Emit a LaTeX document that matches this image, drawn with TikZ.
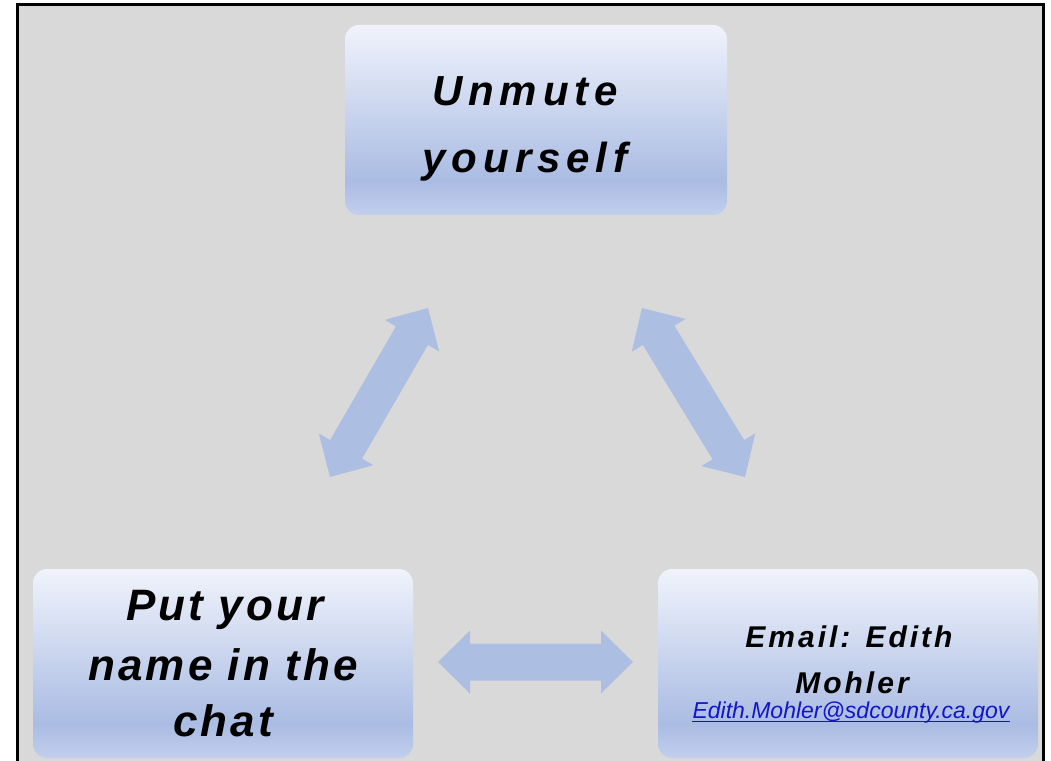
\documentclass[tikz,border=0pt]{standalone}
\usepackage{fontspec}
\setmainfont{Liberation Sans}
\newfontfamily\topfont[LetterSpace=14]{Liberation Sans}
\newfontfamily\blfont[LetterSpace=7]{Liberation Sans}
\newfontfamily\brfont[LetterSpace=10]{Liberation Sans}
\newfontfamily\linkfont{Liberation Sans}
\usetikzlibrary{calc}
\definecolor{bg}{RGB}{217,217,217}
\definecolor{boxtop}{RGB}{240,243,251}
\definecolor{boxdark}{RGB}{170,188,227}
\definecolor{boxbot}{RGB}{194,207,237}
\definecolor{arrowc}{RGB}{173,190,227}
\definecolor{linkc}{RGB}{20,20,200}
\pgfdeclareverticalshading{boxshade}{100bp}{color(0bp)=(boxbot); color(25bp)=(boxbot); color(34bp)=(boxdark); color(75bp)=(boxtop); color(100bp)=(boxtop)}
\newcommand\dblarrow[2]{%
  \fill[arrowc] (#1)
   -- ($(#1)!32pt!(#2)!31.5pt!90:(#2)$)
   -- ($(#1)!32pt!(#2)!18.5pt!90:(#2)$)
   -- ($(#2)!32pt!(#1)!18.5pt!-90:(#1)$)
   -- ($(#2)!32pt!(#1)!31.5pt!-90:(#1)$)
   -- (#2)
   -- ($(#2)!32pt!(#1)!31.5pt!90:(#1)$)
   -- ($(#2)!32pt!(#1)!18.5pt!90:(#1)$)
   -- ($(#1)!32pt!(#2)!18.5pt!-90:(#2)$)
   -- ($(#1)!32pt!(#2)!31.5pt!-90:(#2)$)
   -- cycle;}
\tikzset{
  box/.style={rounded corners=14pt, shading=boxshade, inner sep=0pt,
    minimum width=381pt, minimum height=190pt},
  txt/.style={anchor=base, inner sep=0pt, text=black}
}
\begin{document}
\begin{tikzpicture}[x=1pt,y=-1pt]
\useasboundingbox (0,0) rectangle (1051,760);
\fill[white] (0,0) rectangle (1051,760);
\clip (0,0) rectangle (1051,760);
\draw[line width=3pt, fill=bg] (17,5) rectangle (1043.5,780);

% boxes
\node[box, minimum width=382pt] (top) at (536,120) {};
\node[box, minimum width=380pt, minimum height=189pt] (bl) at (223,663.5) {};
\node[box, minimum width=380pt, minimum height=189pt] (br) at (848,663.5) {};

% texts
\node[txt, font=\topfont\bfseries\itshape\fontsize{42}{50}\selectfont] (t1) at (525,105) {Unmute};
\node[txt, font=\topfont\bfseries\itshape\fontsize{42}{50}\selectfont] (t2) at (525,172) {yourself};

\node[txt, font=\blfont\bfseries\itshape\fontsize{44}{52}\selectfont] (l1) at (225,620) {Put your};
\node[txt, font=\blfont\bfseries\itshape\fontsize{44}{52}\selectfont] (l2) at (223,680) {name in the};
\node[txt, font=\blfont\bfseries\itshape\fontsize{44}{52}\selectfont] (l3) at (223,736) {chat};

\node[txt, font=\brfont\bfseries\itshape\fontsize{30}{36}\selectfont] (r1) at (849,647) {Email: Edith};
\node[txt, font=\brfont\bfseries\itshape\fontsize{30}{36}\selectfont] (r2) at (852,693) {Mohler};
\node[txt, text=linkc, font=\linkfont\itshape\fontsize{23}{28}\selectfont] (r3) at (851,718) {Edith.Mohler@sdcounty.ca.gov};
\draw[linkc, line width=1.3pt] ([yshift=-3.5pt]r3.base west) -- ([yshift=-3.5pt]r3.base east);

% arrows
\coordinate (a1s) at (330,477);
\coordinate (a1e) at (428,308);
\coordinate (a2s) at (642,308);
\coordinate (a2e) at (745,477);
\coordinate (a3s) at (438,662);
\coordinate (a3e) at (633,662);
\dblarrow{a1s}{a1e}
\dblarrow{a2s}{a2e}
\dblarrow{a3s}{a3e}
\end{tikzpicture}
\end{document}
